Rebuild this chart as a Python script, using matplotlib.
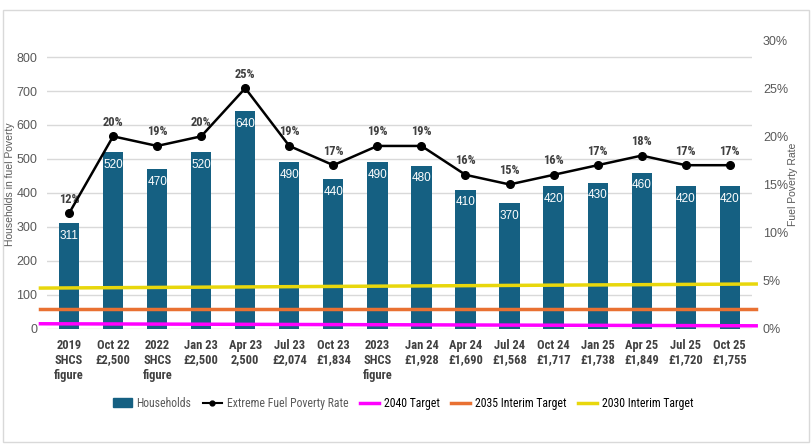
import matplotlib
matplotlib.use('Agg')
import matplotlib.pyplot as plt
from matplotlib.patches import Rectangle
from matplotlib.lines import Line2D
from matplotlib.patches import Patch

narrow = ['Roboto Condensed', 'Liberation Sans Narrow', 'Arial Narrow', 'Liberation Sans', 'DejaVu Sans']
plain = ['Liberation Sans', 'DejaVu Sans']
plt.rcParams['font.family'] = narrow

# 数据
labels = ['2019\nSHCS\nfigure', 'Oct 22\n£2,500', '2022\nSHCS\nfigure', 'Jan 23\n£2,500',
          'Apr 23\n2,500', 'Jul 23\n£2,074', 'Oct 23\n£1,834', '2023\nSHCS\nfigure',
          'Jan 24\n£1,928', 'Apr 24\n£1,690', 'Jul 24\n£1,568', 'Oct 24\n£1,717',
          'Jan 25\n£1,738', 'Apr 25\n£1,849', 'Jul 25\n£1,720', 'Oct 25\n£1,755']
households = [311, 520, 470, 520, 640, 490, 440, 490, 480, 410, 370, 420, 430, 460, 420, 420]
rate = [12, 20, 19, 20, 25, 19, 17, 19, 19, 16, 15, 16, 17, 18, 17, 17]
# 目标线 (起点, 终点)，单位：户数
target_2040 = [15, 9]
target_2035 = [59, 59]
target_2030 = [120, 132]

bar_color = '#156082'
grey = '#595959'
dark = '#404040'

fig = plt.figure(figsize=(8.11, 4.45), dpi=100)
ax = fig.add_axes([0.058, 0.261, 0.869, 0.649])
ax2 = ax.twinx()

x = list(range(len(labels)))
bars = ax.bar(x, households, width=0.46, color=bar_color, zorder=2)
for b, v in zip(bars, households):
    ax.annotate(str(v), (b.get_x() + b.get_width() / 2, v), xytext=(0, -9),
                textcoords='offset points', ha='center', va='center',
                color='white', fontsize=8.5, family=plain)

# 目标线
xs = [-0.65, len(labels) - 0.4]
ax.plot(xs, target_2040, color='#FF00FF', lw=2.5, zorder=3, clip_on=False)
ax.plot(xs, target_2035, color='#E97132', lw=2.5, zorder=3, clip_on=False)
ax.plot(xs, target_2030, color='#E8D70C', lw=2.5, zorder=3, clip_on=False)

ax.set_ylim(0, 850)
ax.set_yticks(range(0, 801, 100))
ax.set_xlim(-0.5, len(labels) - 0.5)
ax.grid(axis='y', color='#d9d9d9', lw=1, zorder=0)
ax.set_axisbelow(True)
ax.set_xticks(x)
ax.set_xticklabels(labels, fontsize=9, fontweight='bold', color=dark, linespacing=1.2)
ax.tick_params(axis='both', length=0)
ax.tick_params(axis='y', labelsize=9, labelcolor=grey, pad=7)
ax.tick_params(axis='x', pad=7)
for t in ax.get_yticklabels():
    t.set_family(plain)
ax.set_ylabel('Households in fuel Poverty', fontsize=7.5, color=grey, family=plain)
ax.yaxis.set_label_coords(-0.046, 0.5)
for ax_ in (ax, ax2):
    for s in ax_.spines.values():
        s.set_visible(False)

# 贫困率折线
ax2.plot(x, [r / 100 for r in rate], color='black', lw=1.8, marker='o', markersize=5.5, zorder=4)
for xi, r in zip(x, rate):
    ax2.annotate(f'{r}%', (xi, r / 100), xytext=(0, 5.5), textcoords='offset points',
                 ha='center', va='bottom', fontsize=9, fontweight='bold', color=dark)
ax2.set_ylim(0, 0.30)
ax2.set_yticks([0, 0.05, 0.10, 0.15, 0.20, 0.25, 0.30])
ax2.set_yticklabels(['0%', '5%', '10%', '15%', '20%', '25%', '30%'], family=plain)
ax2.tick_params(axis='y', length=0, labelsize=9, labelcolor=grey, pad=8)
ax2.set_ylabel('Fuel Poverty Rate', fontsize=7.5, color=grey, family=plain)
ax2.yaxis.set_label_coords(1.052, 0.5)
ax2.set_zorder(ax.get_zorder() + 1)
ax2.patch.set_visible(False)

# 图例
handles = [Patch(color=bar_color),
           Line2D([], [], color='black', marker='o', markersize=3.5, lw=1.5),
           Line2D([], [], color='#FF00FF', lw=2.5),
           Line2D([], [], color='#E97132', lw=2.5),
           Line2D([], [], color='#E8D70C', lw=2.5)]
names = ['Households', 'Extreme Fuel Poverty Rate', '2040 Target', '2035 Interim Target', '2030 Interim Target']
leg = fig.legend(handles, names, loc='center', bbox_to_anchor=(0.497, 0.094), ncol=5, frameon=False,
                 fontsize=8.5, handlelength=1.6, handletextpad=0.4, columnspacing=1.0)
for t in leg.get_texts()[:2]:
    t.set_color(grey)

# 图表边框
fig.patches.append(Rectangle((3 / 811, 3 / 445), 806 / 811, 432 / 445, transform=fig.transFigure,
                             fill=False, edgecolor='#d9d9d9', lw=1))

plt.savefig('out.png', dpi=100)
